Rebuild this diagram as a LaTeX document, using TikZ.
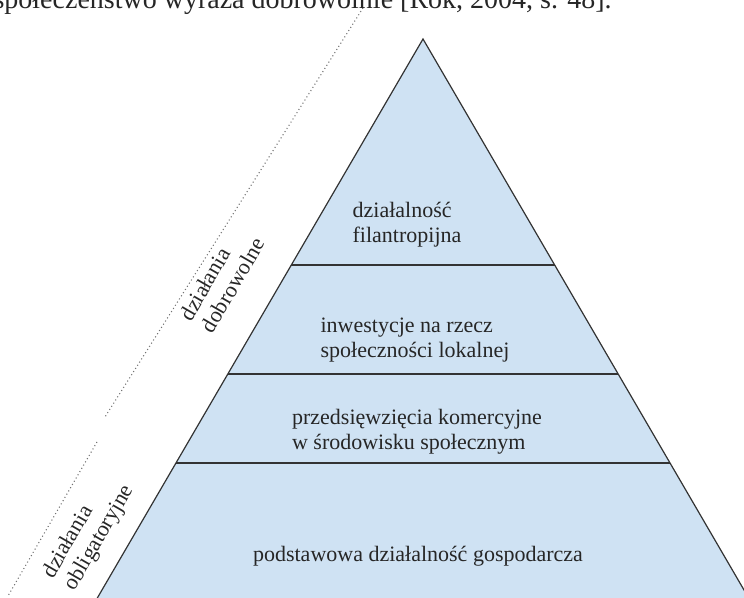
\documentclass[tikz,border=0pt]{standalone}
\usepackage{fontspec}
\setmainfont{Liberation Serif}
\usetikzlibrary{calc,positioning}
\definecolor{pyrblue}{HTML}{CFE2F3}

\begin{document}
\begin{tikzpicture}[x=0.75pt, y=0.75pt,
  txt/.style={font=\fontsize{16.5}{18.5}\selectfont, align=left, text=black!85, inner sep=0pt},
  tier/.style={draw=black!80, line width=0.9pt},
  sidedots/.style={dotted, draw=black!55, line width=0.8pt}]
\clip (0,0) rectangle (744,598);

% pyramid (base runs below the frame)
\coordinate (apex) at (423,559);
\coordinate (bl) at (95,-4);
\coordinate (br) at (751,-4);
\fill[pyrblue] (apex) -- (bl) -- (br) -- cycle;
\draw[tier] (bl) -- (apex) -- (br);

% level lines
\foreach \y in {333,224,135} {
  \draw[tier] ($(apex)!{(559-\y)/563}!(bl)$) -- ($(apex)!{(559-\y)/563}!(br)$);
}

% tiers
\node[txt] (phil) at (407,373) {działalność\\filantropijna};
\node[txt] (inv)  at (415,258) {inwestycje na rzecz\\społeczności lokalnej};
\node[txt] (com)  at (417,166) {przedsięwzięcia komercyjne\\w środowisku społecznym};
\node[txt] (base) at (418,42)  {podstawowa działalność gospodarcza};

% side labels and dotted guides
\coordinate (d1) at (363,590);
\coordinate (d2) at (105,181);
\coordinate (d3) at (97,156);
\coordinate (d4) at (8,2);
\draw[sidedots] (d1) -- (d2);
\draw[sidedots] (d3) -- (d4);
\node[txt, rotate=60] (vol) at (222,319) {działania\\dobrowolne};
\node[txt, rotate=60] (obl) at (89,66)   {działania\\obligatoryjne};

% cut-off text line above the figure
\node[txt, font=\fontsize{21}{23}\selectfont, anchor=base east] (cite) at (612,589) {się społeczeństwo wyraża dobrowolnie [Rok, 2004, s. 48].};
\end{tikzpicture}
\end{document}
